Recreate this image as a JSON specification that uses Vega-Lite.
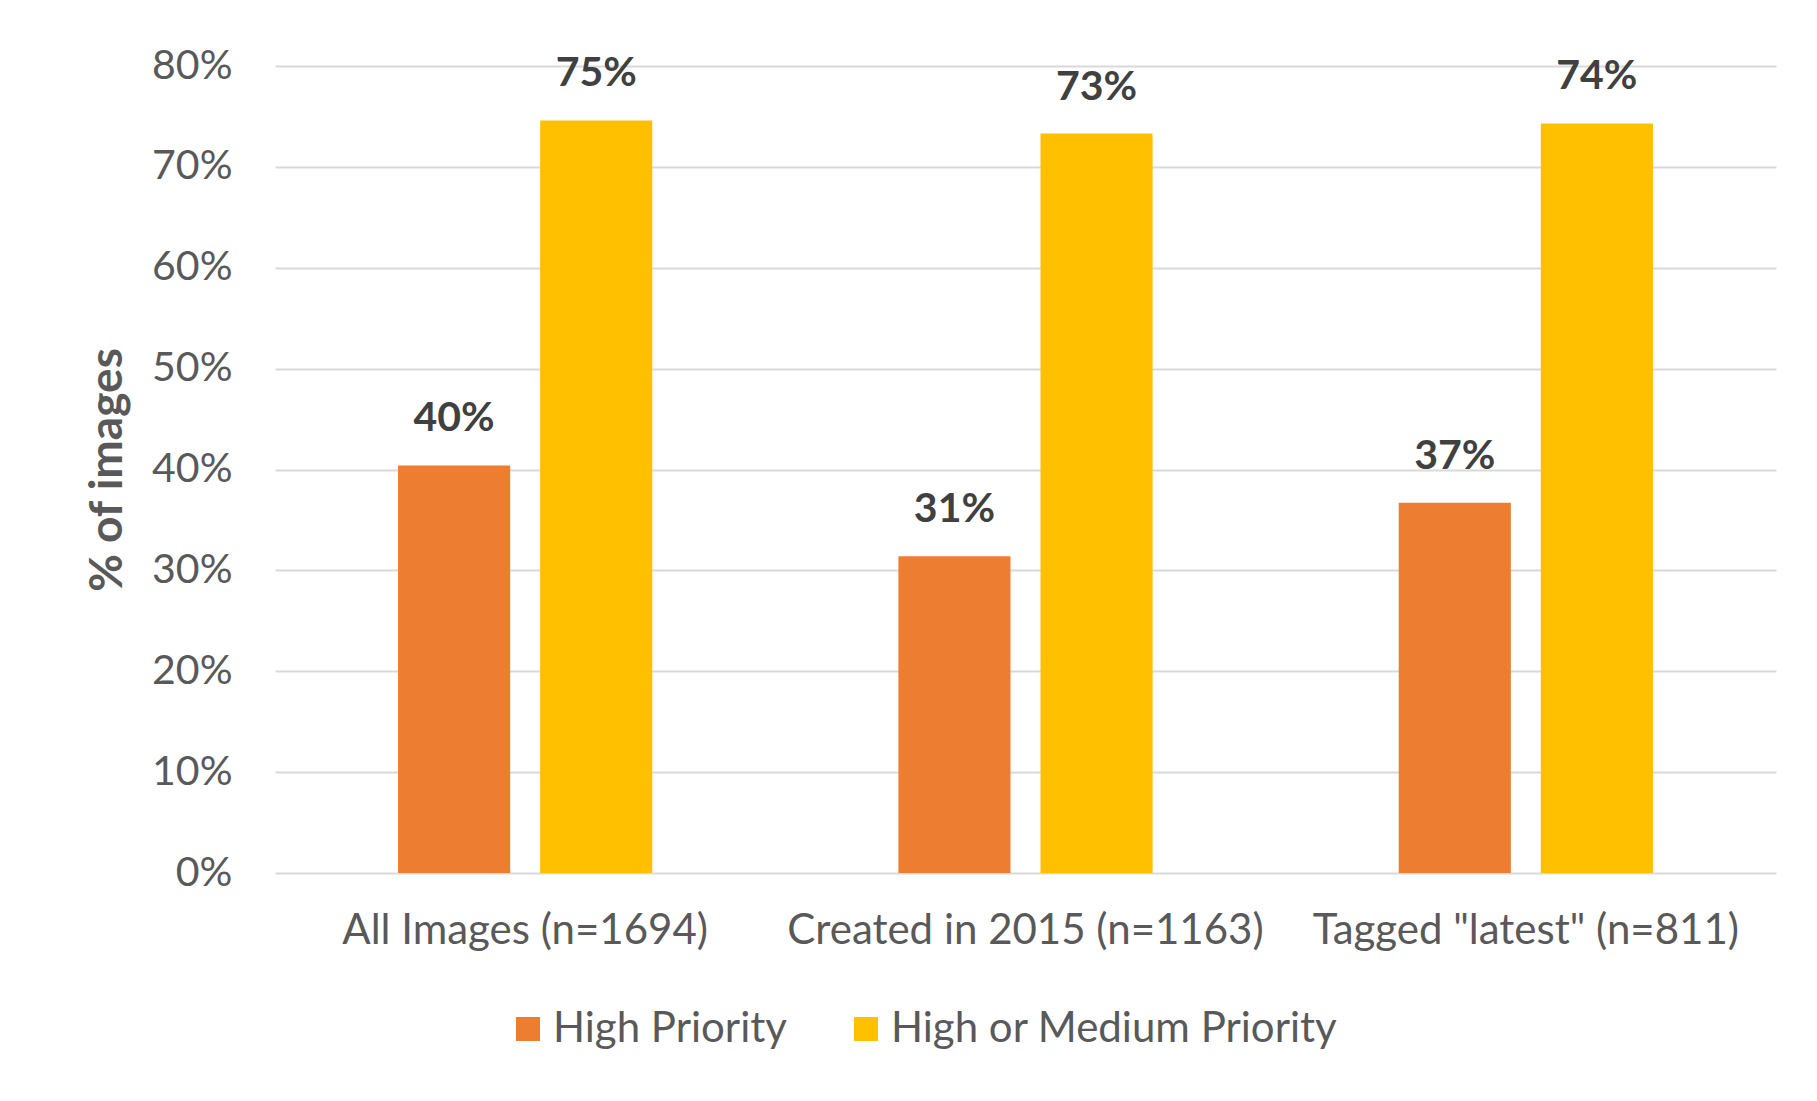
{
  "$schema": "https://vega.github.io/schema/vega-lite/v6.json",
  "width": 1501,
  "height": 807,
  "autosize": {"type": "none"},
  "padding": {"left": 275, "top": 66, "right": 41, "bottom": 228},
  "background": "white",
  "config": {"font": "Lato", "view": {"stroke": null}},
  "data": {
    "values": [
      {"group": "All Images (n=1694)", "series": "High Priority", "value": 0.404},
      {"group": "All Images (n=1694)", "series": "High or Medium Priority", "value": 0.746},
      {"group": "Created in 2015 (n=1163)", "series": "High Priority", "value": 0.314},
      {"group": "Created in 2015 (n=1163)", "series": "High or Medium Priority", "value": 0.733},
      {"group": "Tagged \"latest\" (n=811)", "series": "High Priority", "value": 0.367},
      {"group": "Tagged \"latest\" (n=811)", "series": "High or Medium Priority", "value": 0.743}
    ]
  },
  "encoding": {
    "x": {
      "field": "group",
      "type": "nominal",
      "sort": ["All Images (n=1694)", "Created in 2015 (n=1163)", "Tagged \"latest\" (n=811)"],
      "scale": {"paddingInner": 0, "paddingOuter": 0},
      "axis": {
        "title": null,
        "labelAngle": 0,
        "labelFontSize": 42,
        "labelColor": "#595959",
        "labelPadding": 37,
        "labelLimit": 0,
        "ticks": false,
        "domain": false,
        "grid": false
      }
    },
    "xOffset": {
      "field": "series",
      "type": "nominal",
      "sort": ["High Priority", "High or Medium Priority"],
      "scale": {"paddingInner": 0.211, "paddingOuter": 0.866}
    },
    "y": {
      "field": "value",
      "type": "quantitative",
      "scale": {"domain": [0, 0.8], "nice": false},
      "axis": {
        "values": [0, 0.1, 0.2, 0.3, 0.4, 0.5, 0.6, 0.7, 0.8],
        "format": ".0%",
        "title": "% of images",
        "titleFontSize": 46,
        "titleFontWeight": "bold",
        "titleColor": "#595959",
        "titlePadding": 20,
        "labelFontSize": 41,
        "labelColor": "#595959",
        "labelPadding": 43,
        "ticks": false,
        "domain": false,
        "grid": true,
        "gridColor": "#D9D9D9",
        "gridWidth": 2
      }
    }
  },
  "layer": [
    {
      "mark": {"type": "bar"},
      "encoding": {
        "color": {
          "field": "series",
          "type": "nominal",
          "sort": ["High Priority", "High or Medium Priority"],
          "scale": {"domain": ["High Priority", "High or Medium Priority"], "range": ["#ED7D31", "#FFC000"]},
          "legend": {
            "orient": "none",
            "legendX": 232,
            "legendY": 942,
            "direction": "horizontal",
            "title": null,
            "symbolType": "square",
            "symbolSize": 576,
            "symbolStrokeWidth": 0,
            "labelFontSize": 42,
            "labelColor": "#595959",
            "labelOffset": 4,
            "labelLimit": 0,
            "columnPadding": 58
          }
        }
      }
    },
    {
      "mark": {"type": "text", "baseline": "alphabetic", "dy": -34, "fontWeight": "bold", "fontSize": 41, "color": "#404040"},
      "encoding": {
        "text": {"field": "value", "type": "quantitative", "format": ".0%"}
      }
    }
  ]
}
